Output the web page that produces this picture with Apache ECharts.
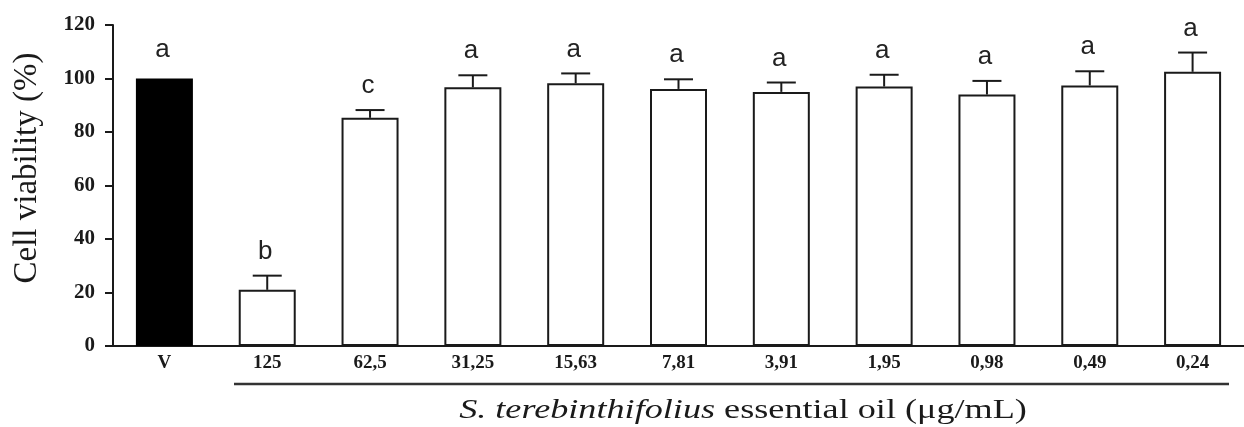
<!DOCTYPE html>
<html>
<head>
<meta charset="utf-8">
<script src="https://cdn.jsdelivr.net/npm/echarts@6/dist/echarts.min.js"></script>
<style>
  html, body { margin: 0; padding: 0; background: #fff; }
  #chart { width: 1244px; height: 427px; }
</style>
</head>
<body>
<div id="chart"></div>
<script>
// ---- data ----
const categories = ['V', '125', '62,5', '31,25', '15,63', '7,81', '3,91', '1,95', '0,98', '0,49', '0,24'];
const viability = [100, 21, 85.3, 96.7, 98.2, 96.1, 95.0, 97.0, 94.0, 97.4, 102.5];
const sem = [0, 5.3, 2.9, 4.5, 3.7, 3.6, 3.5, 4.4, 5.1, 5.3, 7.2];
const letters = ['a', 'b', 'c', 'a', 'a', 'a', 'a', 'a', 'a', 'a', 'a'];
const yMin = 0, yMax = 120, yInterval = 20;
const yTitle = 'Cell viability (%)';
const xTitleItalic = 'S. terebinthifolius';
const xTitleRest = ' essential oil (μg/mL)';

const chart = echarts.init(document.getElementById('chart'));

const barData = viability.map((v, i) => i === 0
  ? { value: v, itemStyle: { color: '#000', borderColor: '#000' } }
  : v);
const errData = viability.map((v, i) => [i, v, sem[i]]);

const option = {
  backgroundColor: '#fff',
  animation: false,
  grid: { left: 113, top: 25, width: 1141, height: 321 },
  xAxis: {
    type: 'category',
    data: categories,
    axisLine: { lineStyle: { color: '#1a1a1a', width: 2 } },
    axisTick: { alignWithLabel: true, length: 5, lineStyle: { color: '#1a1a1a', width: 2 } },
    axisLabel: {
      margin: 8,
      color: '#1a1a1a',
      fontFamily: 'Liberation Serif',
      fontWeight: 'bold',
      fontSize: 19
    }
  },
  yAxis: {
    type: 'value',
    min: yMin, max: yMax, interval: yInterval,
    splitLine: { show: false },
    axisLine: { show: true, lineStyle: { color: '#1a1a1a', width: 2 } },
    axisTick: { show: true, length: 8, lineStyle: { color: '#1a1a1a', width: 2 } },
    axisLabel: {
      margin: 18,
      color: '#1a1a1a',
      fontFamily: 'Liberation Serif',
      fontWeight: 'bold',
      fontSize: 21
    }
  },
  series: [
    {
      type: 'bar',
      data: barData,
      barWidth: 57,
      itemStyle: { color: '#fff', borderColor: '#1a1a1a', borderWidth: 2 },
      z: 2
    },
    {
      type: 'custom',
      data: errData,
      z: 3,
      renderItem: function (params, api) {
        const i = api.value(0), v = api.value(1), e = api.value(2);
        const base = api.coord([i, v]);
        const top = api.coord([i, v + e]);
        const capHalf = 14.5;
        const style = { stroke: '#1a1a1a', lineWidth: 2 };
        const children = [];
        if (e > 0) {
          children.push({ type: 'line', shape: { x1: base[0], y1: base[1], x2: top[0], y2: top[1] }, style: style });
          children.push({ type: 'line', shape: { x1: top[0] - capHalf, y1: top[1], x2: top[0] + capHalf, y2: top[1] }, style: style });
        }
        children.push({
          type: 'text',
          x: top[0] - 2,
          y: top[1] - (e > 0 ? 24 : 29),
          style: {
            text: letters[params.dataIndex],
            fill: '#222',
            font: '26px "Liberation Sans"',
            align: 'center',
            verticalAlign: 'middle'
          }
        });
        return { type: 'group', children: children };
      }
    }
  ],
  graphic: [
    { type: 'line', shape: { x1: 105, y1: 346, x2: 114, y2: 346 }, style: { stroke: '#1a1a1a', lineWidth: 2 } },
    { type: 'line', shape: { x1: 234, y1: 384, x2: 1229, y2: 384 }, style: { stroke: '#333', lineWidth: 2.5 } },
    {
      type: 'text',
      x: 27.5, y: 168,
      rotation: Math.PI / 2,
      style: {
        text: yTitle,
        fill: '#1a1a1a',
        font: '33px "Liberation Serif"',
        align: 'center',
        verticalAlign: 'middle'
      }
    },
    {
      type: 'text',
      x: 743, y: 411,
      scaleX: 1.34,
      style: {
        text: '{i|' + xTitleItalic + '}' + xTitleRest,
        fill: '#1a1a1a',
        font: '27px "Liberation Serif"',
        align: 'center',
        verticalAlign: 'middle',
        rich: {
          i: { fontStyle: 'italic', fontFamily: 'Liberation Serif', fontSize: 27, fill: '#1a1a1a' }
        }
      }
    }
  ]
};
chart.setOption(option);
</script>
</body>
</html>
